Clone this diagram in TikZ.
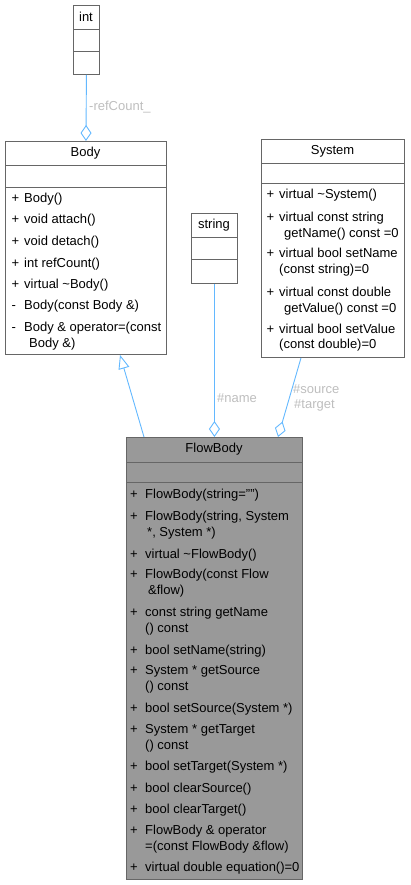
\documentclass[tikz,border=0pt]{standalone}
\usepackage{fontspec}
\setmainfont{Liberation Sans}
\usetikzlibrary{arrows.meta}
\definecolor{edgeblue}{HTML}{63B8FF}
\definecolor{lblgray}{HTML}{BEBEBE}
\definecolor{boxgray}{HTML}{666666}
\definecolor{fillgray}{HTML}{999999}
\begin{document}
\begin{tikzpicture}[x=1pt,y=-1pt, font=\fontsize{13}{15}\selectfont,
 classbox/.style={draw=boxgray, line width=0.9pt, fill=white, inner sep=0, anchor=north west},
 sepline/.style={draw=boxgray, line width=0.9pt},
 member/.style={anchor=base west, inner sep=0},
 title/.style={anchor=center, inner sep=0},
 edge/.style={draw=edgeblue, line width=0.9pt},
 agg/.style={edge, -{Diamond[open, length=16pt, width=11pt]}},
 inh/.style={edge, -{Triangle[open, length=14pt, width=11pt]}},
 elabel/.style={text=lblgray, anchor=west, inner sep=0}]
\useasboundingbox (0,0) rectangle (410,885);

% boxes
\node[classbox, minimum width=26pt, minimum height=69pt] (int) at (73,5) {};
\node[classbox, minimum width=161pt, minimum height=213pt] (body) at (5,141) {};
\node[classbox, minimum width=46pt, minimum height=70pt] (string) at (191,213) {};
\node[classbox, minimum width=143pt, minimum height=218pt] (sys) at (261,139) {};
\node[classbox, fill=fillgray, minimum width=176pt, minimum height=442pt] (flow) at (126,437) {};

% separators
\foreach \b/\ya/\yb in {int/29/51, body/165/187, string/237/259, sys/163/183, flow/462/482}{
  \draw[sepline] (\b.west |- 0,\ya) -- (\b.east |- 0,\ya);
  \draw[sepline] (\b.west |- 0,\yb) -- (\b.east |- 0,\yb);
}

% titles
\node[title] (intT) at (86,17) {int};
\node[title] (bodyT) at (85.5,153) {Body};
\node[title] (stringT) at (214,225) {string};
\node[title] (sysT) at (332.5,151) {System};
\node[title] (flowT) at (214,449.5) {FlowBody};

% Body members
\foreach \y/\s/\t [count=\i] in {
  203/+/{Body()}, 224/+/{void attach()}, 245/+/{void detach()},
  267/+/{int refCount()}, 288/+/{virtual \textasciitilde Body()},
  309/-/{Body(const Body \&)}, 331/-/{Body \& operator=(const}}{
  \node[member] (bs\i) at (11.5,\y) {\s};
  \node[member] (bt\i) at (24,\y) {\t};
}
\node[member] (bc7) at (29,347) {Body \&)};

% System members
\foreach \y/\t [count=\i] in {
  199/{virtual \textasciitilde System()}, 222/{virtual const string},
  258/{virtual bool setName}, 296/{virtual const double},
  333/{virtual bool setValue}}{
  \node[member] (ss\i) at (266.5,\y) {+};
  \node[member] (st\i) at (279,\y) {\t};
}
\node[member] (sc2) at (284,237) {getName() const =0};
\node[member] (sc3) at (279,273) {(const string)=0};
\node[member] (sc4) at (284,312) {getValue() const =0};
\node[member] (sc5) at (279,348) {(const double)=0};

% FlowBody members
\foreach \y/\t [count=\i] in {
  498/{FlowBody(string="")}, 520/{FlowBody(string, System},
  558/{virtual \textasciitilde FlowBody()}, 578/{FlowBody(const Flow},
  616/{const string getName}, 654/{bool setName(string)},
  674/{System * getSource}, 712/{bool setSource(System *)},
  733/{System * getTarget}, 770/{bool setTarget(System *)},
  792/{bool clearSource()}, 813/{bool clearTarget()},
  834/{FlowBody \& operator}, 871/{virtual double equation()=0}}{
  \node[member] (fs\i) at (130,\y) {+};
  \node[member] (ft\i) at (145,\y) {\t};
}
\node[member] (fc2) at (147,536) {*, System *)};
\node[member] (fc4) at (148,594) {\&flow)};
\node[member] (fc5) at (145,632) {() const};
\node[member] (fc7) at (145,690) {() const};
\node[member] (fc9) at (145,749) {() const};
\node[member] (fc13) at (145,850) {=(const FlowBody \&flow)};

% connectors
\draw[agg] (int.south) -- (body.north);
\node[elabel] (lref) at (89,107) {-refCount\_};
\draw[agg] (string.south) -- (string.south |- flow.north);
\node[elabel] (lname) at (217,398) {\#name};
\draw[agg] (sys.south -| 301,0) -- (flow.north -| 278,0);
\node[elabel] (lsrc) at (293,389) {\#source};
\node[elabel] (ltgt) at (294,405) {\#target};
\draw[inh] (flow.north -| 144,0) -- (body.south -| 120,0);
\end{tikzpicture}
\end{document}
